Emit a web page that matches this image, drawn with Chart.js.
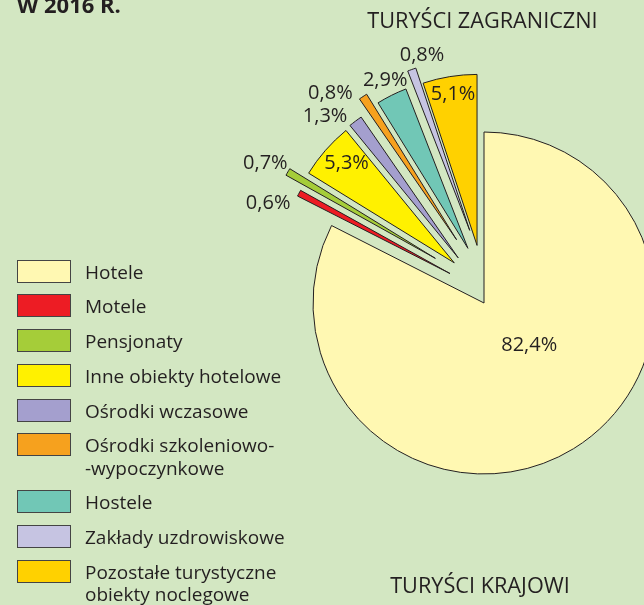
<!DOCTYPE html>
<html><head><meta charset="utf-8">
<script src="https://cdn.jsdelivr.net/npm/chart.js@4.4.0/dist/chart.umd.min.js"></script>
<style>
html,body{margin:0;padding:0;}
body{width:644px;height:605px;background:#d3e7c2;position:relative;overflow:hidden;font-family:"Open Sans",sans-serif;color:#231f20;}
#c{position:absolute;left:0;top:0;}
.t{position:absolute;white-space:nowrap;}
#title{left:17px;top:-11.5px;font-weight:bold;font-size:22px;line-height:30px;}
#zag{left:482.5px;top:5px;font-size:21.7px;line-height:30px;transform:translateX(-50%);}
#kra{left:480px;top:570px;font-size:21.7px;line-height:30px;transform:translateX(-50%);}
#legend{position:absolute;left:17px;top:259.5px;}
.li{display:flex;align-items:flex-start;margin-bottom:11.8px;}
.box{width:52px;height:21px;border:1px solid #444;flex:none;}
.lt{margin-left:14px;font-size:19px;line-height:22.5px;position:relative;top:1px;white-space:pre;}
</style></head>
<body>
<canvas id="c" width="644" height="605"></canvas>
<div class="t" id="title">W 2016 R.</div>
<div class="t" id="zag">TURYŚCI ZAGRANICZNI</div>
<div class="t" id="kra">TURYŚCI KRAJOWI</div>
<div id="legend"></div>
<script>
const categories = ['Hotele','Motele','Pensjonaty','Inne obiekty hotelowe','Ośrodki wczasowe','Ośrodki szkoleniowo-\n-wypoczynkowe','Hostele','Zakłady uzdrowiskowe','Pozostałe turystyczne\nobiekty noclegowe'];
const shares = [82.4, 0.6, 0.7, 5.3, 1.3, 0.8, 2.9, 0.8, 5.1];
const colors = ['#fff8b2','#ed1c24','#a5cd39','#fff100','#a49fce','#f6a11e','#71c7b6','#c6c4e2','#ffd100'];
// how far each slice is pulled out (px) and how much its pull direction is turned from the slice middle (deg)
const explodeDist = [0, 45, 66, 50, 52, 69, 57, 74, 58];
const explodeTurn = [0, 12.9, 12.2, 12.3, 7.2, 9.7, 10.1, 8.7, 2.3];
// label placement around the pie centre
const labelTurn = [-16.3, -3.1, 2.4, 4.6, -3.3, -2.9, 2.7, 5.8, 0.8];
const labelDist = [61, 238, 260, 197, 246, 261, 245, 256, 212];

// legend
const lg = document.getElementById('legend');
categories.forEach((c, i) => {
  const row = document.createElement('div'); row.className = 'li';
  const b = document.createElement('div'); b.className = 'box'; b.style.background = colors[i];
  const t = document.createElement('div'); t.className = 'lt'; t.textContent = c;
  row.appendChild(b); row.appendChild(t); lg.appendChild(row);
});

const DEG = Math.PI / 180;
const explodePlugin = {
  id: 'explode',
  afterDatasetUpdate(chart, args) {
    args.meta.data.forEach((arc, i) => {
      const d = explodeDist[i];
      if (!d) return;
      const a = (arc.startAngle + arc.endAngle) / 2 + explodeTurn[i] * DEG;
      arc.x += Math.cos(a) * d;
      arc.y += Math.sin(a) * d;
    });
  },
  afterDatasetsDraw(chart) {
    const meta = chart.getDatasetMeta(0);
    const ca = chart.chartArea;
    const cx = (ca.left + ca.right) / 2, cy = (ca.top + ca.bottom) / 2;
    const ctx = chart.ctx;
    ctx.save();
    ctx.font = '20px "Open Sans"';
    ctx.fillStyle = '#231f20';
    ctx.textAlign = 'center';
    ctx.textBaseline = 'middle';
    meta.data.forEach((arc, i) => {
      const a = (arc.startAngle + arc.endAngle) / 2 + labelTurn[i] * DEG;
      const x = cx + Math.cos(a) * labelDist[i];
      const y = cy + Math.sin(a) * labelDist[i];
      ctx.fillText(shares[i].toFixed(1).replace('.', ',') + '%', x, y + 1);
    });
    ctx.restore();
  }
};

new Chart(document.getElementById('c'), {
  type: 'pie',
  data: {
    labels: categories,
    datasets: [{
      data: shares,
      backgroundColor: colors,
      borderColor: '#231f20',
      borderWidth: 1,
      clip: false
    }]
  },
  options: {
    responsive: false,
    animation: false,
    events: [],
    radius: 171,
    layout: { padding: { left: 324, right: 0, top: 1, bottom: 0 } },
    plugins: { legend: { display: false }, tooltip: { enabled: false }, title: { display: false } }
  },
  plugins: [explodePlugin]
});
</script>
</body></html>
